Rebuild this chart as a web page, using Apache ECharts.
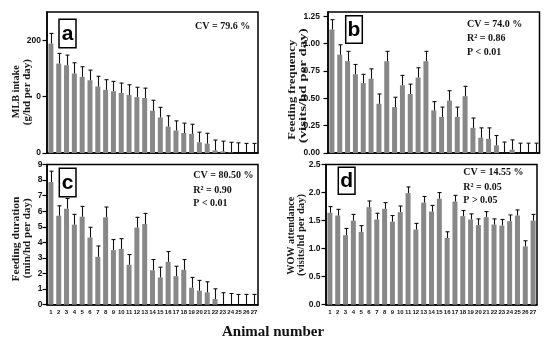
<!DOCTYPE html>
<html><head><meta charset="utf-8">
<script src="https://cdn.jsdelivr.net/npm/echarts@6/dist/echarts.min.js"></script>
<style>html,body{margin:0;padding:0;background:#fff}#c{width:550px;height:343px}</style>
</head><body><div id="c"></div>
<script>
const animals = ['1','2','3','4','5','6','7','8','9','10','11','12','13','14','15','16','17','18','19','20','21','22','23','24','25','26','27'];

const mlbIntake = [194,158.6,155.6,141,135,129,118,112,109.5,106.5,103,99,97.6,75,63,47,40,35.5,34,19,16.6,4.7,3,1,0,0,0];
const mlbErr = [18,18,18,19,18,18,18,18,17.5,17.5,18,17.6,17.4,18.5,18,19,17,17.5,17,18,18.4,18.3,18,18,18,17,17];

const feedFreq = [1.13,0.90,0.84,0.72,0.64,0.68,0.45,0.84,0.42,0.62,0.54,0.69,0.84,0.39,0.33,0.48,0.33,0.52,0.23,0.14,0.13,0.07,0,0.03,0,0,0];
const feedFreqErr = [0.09,0.09,0.09,0.09,0.08,0.09,0.09,0.09,0.09,0.09,0.09,0.09,0.09,0.08,0.09,0.09,0.09,0.09,0.09,0.09,0.10,0.09,0.10,0.09,0.09,0.09,0.09];

const feedDur = [7.87,5.71,6.16,5.14,5.65,4.31,3.07,5.61,3.50,3.58,2.56,4.95,5.18,2.21,1.75,2.75,1.83,2.24,1.09,0.90,0.79,0.36,0,0,0,0,0];
const feedDurErr = [0.70,0.64,0.66,0.66,0.66,0.66,0.70,0.66,0.68,0.66,0.66,0.66,0.68,0.69,0.66,0.66,0.64,0.66,0.66,0.66,0.68,0.66,0.77,0.72,0.66,0.66,0.66];

const wowAttend = [1.64,1.59,1.24,1.50,1.30,1.74,1.52,1.71,1.48,1.65,1.99,1.34,1.82,1.66,1.89,1.19,1.84,1.58,1.52,1.42,1.56,1.43,1.41,1.49,1.59,1.04,1.50];
const wowAttendErr = [0.11,0.11,0.12,0.11,0.11,0.11,0.11,0.11,0.11,0.11,0.11,0.11,0.11,0.11,0.11,0.11,0.11,0.10,0.10,0.11,0.10,0.10,0.11,0.11,0.10,0.10,0.11];

const aTicks = [0,100,200];            const aTickLabels = ['0','0','200'];
const bTicks = [0,0.25,0.5,0.75,1,1.25]; const bTickLabels = ['0.00','0.25','0.50','0.75','1.00','1.25'];
const cTicks = [0,1,2,3,4,5,6,7,8,9];  const cTickLabels = ['0','1','2','3','4','5','6','7','8','9'];
const dTicks = [0,0.5,1,1.5,2,2.5];    const dTickLabels = ['0.0','0.5','1.0','1.5','2.0','2.5'];

const panels = [
  {vals: mlbIntake, errs: mlbErr, ticks: aTicks, labels: aTickLabels, max: 250, margin: 6,
   grid: {left: 47, top: 12, width: 211, height: 141}, showX: false},
  {vals: feedFreq, errs: feedFreqErr, ticks: bTicks, labels: bTickLabels, max: 1.29, margin: 8,
   grid: {left: 328, top: 12, width: 211.5, height: 141}, showX: false},
  {vals: feedDur, errs: feedDurErr, ticks: cTicks, labels: cTickLabels, max: 9, margin: 4.5,
   grid: {left: 47, top: 164.5, width: 211, height: 140.2}, showX: true},
  {vals: wowAttend, errs: wowAttendErr, ticks: dTicks, labels: dTickLabels, max: 2.5, margin: 5.5,
   grid: {left: 326, top: 164.5, width: 211, height: 140.2}, showX: true}
];

const tickFont = '"Liberation Sans", Arial, sans-serif';
const serif = '"Liberation Serif", "Times New Roman", serif';

const grids = [], xAxes = [], yAxes = [], series = [];
panels.forEach((p, i) => {
  grids.push(Object.assign({show: true, borderColor: '#000', borderWidth: 1.5, backgroundColor: 'transparent', outerBoundsMode: 'none'}, p.grid));
  xAxes.push({
    type: 'category', gridIndex: i, data: animals,
    axisLine: {lineStyle: {color: '#000', width: 1.5}},
    axisTick: {alignWithLabel: true, length: 3.5, lineStyle: {color: '#000', width: 1}},
    axisLabel: {show: p.showX, interval: 0, margin: 5, fontSize: 6, fontWeight: 'bold', color: '#111',
      fontFamily: '"Liberation Sans Narrow", "Liberation Sans", Arial, sans-serif'}
  });
  const ticks = p.ticks, labels = p.labels;
  yAxes.push({
    type: 'value', gridIndex: i, min: 0, max: p.max,
    axisLine: {show: true, lineStyle: {color: '#000', width: 1.5}},
    axisTick: {show: true, length: 4.5, customValues: ticks, lineStyle: {color: '#000', width: 1.2}},
    axisLabel: {customValues: ticks, margin: p.margin, fontSize: 8.5, fontWeight: 'bold', color: '#111', fontFamily: tickFont,
      formatter: v => { const k = ticks.findIndex(t => Math.abs(t - v) < 1e-9); return k >= 0 ? labels[k] : ''; }},
    splitLine: {show: false}
  });
  series.push({
    type: 'bar', xAxisIndex: i, yAxisIndex: i, data: p.vals, barWidth: 5,
    itemStyle: {color: '#888888'}, silent: true, animation: false
  });
  series.push({
    type: 'custom', xAxisIndex: i, yAxisIndex: i, animation: false, silent: true, z: 3,
    data: p.vals.map((v, j) => [j, v, p.errs[j]]),
    renderItem: (params, api) => {
      const x = api.value(0), v = api.value(1), e = api.value(2);
      const p0 = api.coord([x, v]), p1 = api.coord([x, v + e]);
      const cx = Math.round(p0[0]) + 0.5;
      return {type: 'group', children: [
        {type: 'line', shape: {x1: cx, y1: p0[1], x2: cx, y2: p1[1]}, style: {stroke: '#111', lineWidth: 1.1}},
        {type: 'line', shape: {x1: cx - 2, y1: p1[1], x2: cx + 2, y2: p1[1]}, style: {stroke: '#111', lineWidth: 1.1}}
      ]};
    }
  });
});

const mctx = document.createElement('canvas').getContext('2d');
const titleFont = 'bold 10.5px ' + serif;
function vText(x, y, text, len) {
  mctx.font = titleFont;
  const w = mctx.measureText(text).width || len;
  return {type: 'text', x: x, y: y, rotation: Math.PI / 2, scaleX: len / w, scaleY: 1,
    style: {text: text, font: titleFont, fill: '#1a1a1a', textAlign: 'center', textVerticalAlign: 'middle'}};
}
function hText(x, y, text) {
  return {type: 'text', x: x, y: y,
    style: {text: text, font: 'bold 10px ' + serif, fill: '#111', textAlign: 'left', textVerticalAlign: 'middle'}};
}
function letterBox(x, y, w, h, t) {
  return [
    {type: 'rect', shape: {x: x, y: y, width: w, height: h}, style: {fill: '#fff', stroke: '#000', lineWidth: 1.5}, z: 10},
    {type: 'text', x: x + w / 2, y: y + h / 2 + 0.5, z: 11,
      style: {text: t, font: 'bold 21px "Liberation Sans", Arial, sans-serif', fill: '#000', textAlign: 'center', textVerticalAlign: 'middle'}}
  ];
}

const graphic = [
  vText(16.7, 91.7, 'MLB intake', 53), vText(27, 92.2, '(g/hd per day)', 66),
  vText(292.5, 89.7, 'Feeding frequency', 100), vText(303, 85.8, '(visits/hd per day)', 115),
  vText(16.7, 239, 'Feeding duration', 85), vText(27.3, 238.3, '(min/hd per day)', 80),
  vText(291.7, 235.7, 'WOW attendance', 78), vText(301.7, 235, '(visits/hd per day)', 82),
  hText(195, 26, 'CV = 79.6 %'),
  hText(467, 24, 'CV = 74.0 %'), hText(467, 38, 'R² = 0.86'), hText(467, 52, 'P < 0.01'),
  hText(193.3, 175.7, 'CV = 80.50 %'), hText(193.3, 190, 'R² = 0.90'), hText(193.3, 203.7, 'P < 0.01'),
  hText(463.3, 172.3, 'CV = 14.55 %'), hText(463.3, 187.3, 'R² = 0.05'), hText(463.3, 200.5, 'P > 0.05'),
  {type: 'text', x: 273, y: 332, style: {text: 'Animal number', font: 'bold 15px ' + serif, fill: '#111', textAlign: 'center', textVerticalAlign: 'middle'}}
].concat(letterBox(59, 19.3, 17, 28.4, 'a'), letterBox(345.7, 15.7, 16.6, 27.6, 'b'),
         letterBox(59.3, 168.3, 16.7, 28.4, 'c'), letterBox(338.3, 167.3, 16.7, 27, 'd'));

const chart = echarts.init(document.getElementById('c'), null, {renderer: 'canvas'});
chart.setOption({animation: false, grid: grids, xAxis: xAxes, yAxis: yAxes, series: series, graphic: graphic});
</script></body></html>
